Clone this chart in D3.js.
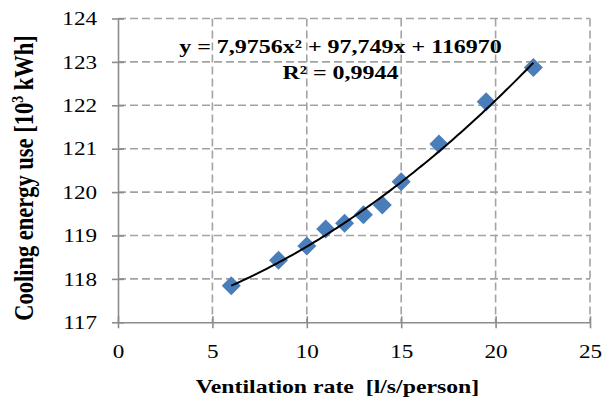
<!DOCTYPE html>
<html>
<head>
<meta charset="utf-8">
<script src="https://cdn.jsdelivr.net/npm/d3@7"></script>
<style>
  html, body { margin: 0; padding: 0; background: #fff; }
  svg { display: block; }
</style>
</head>
<body>
<svg id="chart" width="610" height="400"></svg>
<script>
// Ventilation rate [l/s/person]
const ventilationRate = [6, 8.5, 10, 11, 12, 13, 14, 15, 17, 19.5, 22];
// Cooling energy use [10^3 kWh]
const coolingEnergy = [117.84, 118.43, 118.76, 119.15, 119.28, 119.48, 119.70, 120.24, 121.11, 122.08, 122.87];
// Polynomial trendline coefficients (kWh): a*x^2 + b*x + c
const trendCoefficients = [7.9756, 97.749, 116970];
const trendLabel = "y = 7,9756x² + 97,749x + 116970";
const r2Label = "R² = 0,9944";
const xTicks = [0, 5, 10, 15, 20, 25];
const yTicks = [117, 118, 119, 120, 121, 122, 123, 124];

const FONT = "Liberation Serif";
const WIDE = 1.25; // horizontal widening of the serif lettering

const svg = d3.select("#chart").attr("font-family", FONT);
const plotLeft = 118, plotRight = 590, plotTop = 18.5, plotBottom = 322.3;

const x = d3.scaleLinear().domain([0, 25]).range([plotLeft, plotRight]);
const y = d3.scaleLinear().domain([117, 124]).range([plotBottom, plotTop]);

const gridColor = "#a3a3a3";
const axisColor = "#8c8c8c";

// dashed gridlines
svg.append("g").selectAll("line")
  .data(xTicks.filter(d => d > 0))
  .join("line")
  .attr("x1", d => x(d)).attr("x2", d => x(d))
  .attr("y1", y(124)).attr("y2", y(117))
  .attr("stroke", gridColor).attr("stroke-width", 1.6)
  .attr("stroke-dasharray", "8,4");

svg.append("g").selectAll("line")
  .data(yTicks.filter(d => d > 117))
  .join("line")
  .attr("x1", x(0)).attr("x2", x(25))
  .attr("y1", d => y(d)).attr("y2", d => y(d))
  .attr("stroke", gridColor).attr("stroke-width", 1.6)
  .attr("stroke-dasharray", "8,4");

// axes with cross tick marks
const xAxis = svg.append("g").attr("transform", `translate(0,${plotBottom})`)
  .call(d3.axisBottom(x).tickValues(xTicks).tickSize(6).tickSizeOuter(0).tickFormat(d3.format("d")));
xAxis.selectAll(".tick line").attr("y1", -6);
xAxis.selectAll(".tick text")
  .attr("x", null).attr("y", null).attr("dy", null)
  .attr("transform", `translate(0,35.4) scale(${WIDE},1)`);

const yAxis = svg.append("g").attr("transform", `translate(${plotLeft},0)`)
  .call(d3.axisLeft(y).tickValues(yTicks).tickSize(6).tickSizeOuter(0).tickFormat(d3.format("d")));
yAxis.selectAll(".tick line").attr("x1", 6);
yAxis.selectAll(".tick text")
  .attr("x", null).attr("dy", "0.34em")
  .attr("transform", `translate(-21,0) scale(${WIDE},1)`);

[xAxis, yAxis].forEach(g => {
  g.attr("font-family", FONT).attr("font-size", 18.5);
  g.select(".domain").attr("stroke", axisColor).attr("stroke-width", 1.6);
  g.selectAll(".tick line").attr("stroke", axisColor).attr("stroke-width", 1.6);
  g.selectAll(".tick text").attr("fill", "#000");
});

// data markers (diamonds)
const diamond = d3.symbol().type(d3.symbolDiamond2).size(230);
svg.append("g").selectAll("path")
  .data(ventilationRate.map((v, i) => [v, coolingEnergy[i]]))
  .join("path")
  .attr("d", diamond)
  .attr("transform", d => `translate(${x(d[0])},${y(d[1])})`)
  .attr("fill", "#4a7ebb");

// polynomial trendline, converted to 10^3 kWh
const [a, b, c] = trendCoefficients;
const xMin = d3.min(ventilationRate), xMax = d3.max(ventilationRate);
const trendX = d3.range(0, 101).map(i => xMin + (xMax - xMin) * i / 100);
const line = d3.line()
  .x(d => x(d))
  .y(d => y((a * d * d + b * d + c) / 1000));
svg.append("path")
  .datum(trendX)
  .attr("d", line)
  .attr("fill", "none")
  .attr("stroke", "#000")
  .attr("stroke-width", 2);

// widened bold label helper
function label(px, py, size, str) {
  return svg.append("text")
    .attr("transform", `translate(${px},${py}) scale(${WIDE},1)`)
    .attr("text-anchor", "middle")
    .attr("font-family", FONT).attr("font-size", size).attr("font-weight", "bold")
    .text(str);
}

// trendline equation
label(340.5, 53, 19.2, trendLabel);
label(340.5, 79, 19.2, r2Label);

// axis titles
label(337.5, 393, 19, "Ventilation rate\u00a0\u00a0[l/s/person]");

const yTitle = svg.append("text")
  .attr("transform", `translate(33,178) scale(${WIDE},1) rotate(-90)`)
  .attr("text-anchor", "middle")
  .attr("font-family", FONT).attr("font-size", 22.5).attr("font-weight", "bold");
yTitle.append("tspan").text("Cooling energy use [10");
yTitle.append("tspan").attr("dy", -8).attr("font-size", 14).text("3");
yTitle.append("tspan").attr("dy", 8).text(" kWh]");
</script>
</body>
</html>
